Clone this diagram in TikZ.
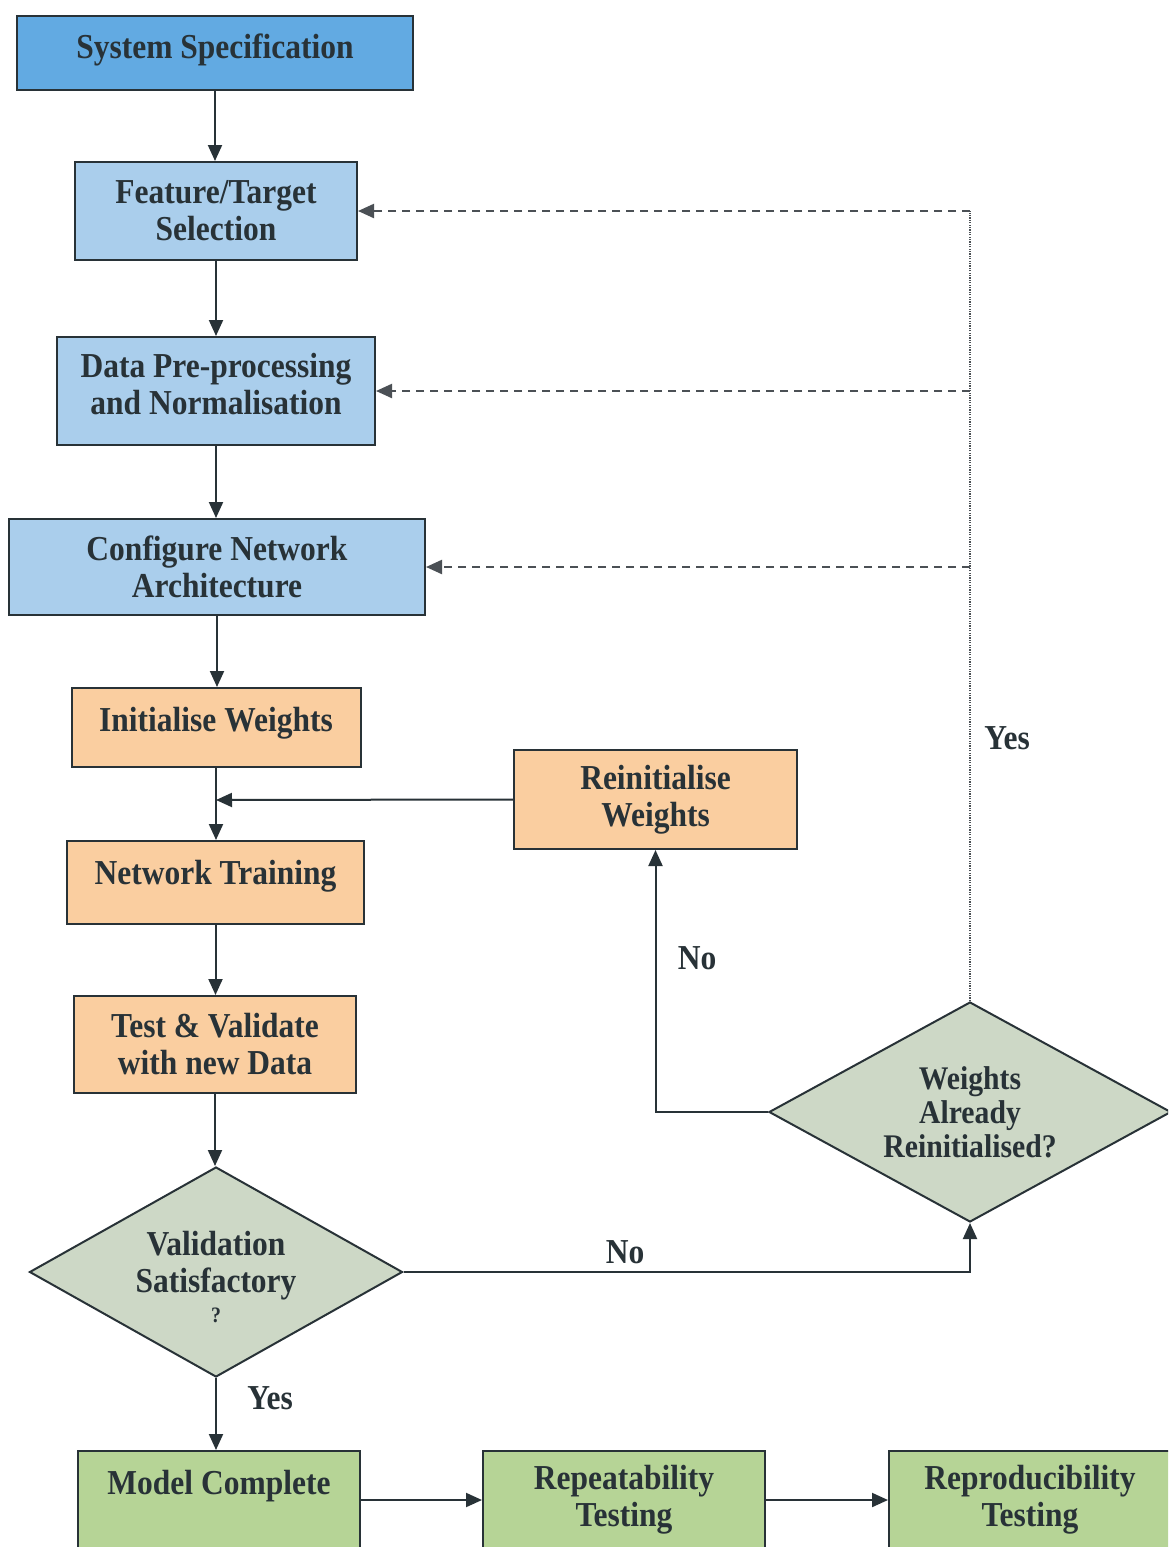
\documentclass[tikz,border=0pt]{standalone}
\usepackage{fontspec}
\setmainfont{Liberation Serif}[FakeStretch=0.9]
\usetikzlibrary{arrows.meta,shapes.geometric}
\definecolor{ink}{RGB}{40,50,55}
\definecolor{specblue}{RGB}{98,170,226}
\definecolor{lightblue}{RGB}{170,206,236}
\definecolor{peach}{RGB}{250,206,160}
\definecolor{sage}{RGB}{205,216,198}
\definecolor{leaf}{RGB}{182,212,150}
\definecolor{dashgray}{RGB}{75,80,85}

% lift a single line of text without changing the size the node sees
\newcommand{\lifttext}[2]{\raisebox{#1}[\height][\depth]{#2}}

\begin{document}
\begin{tikzpicture}[x=0.5pt,y=-0.5pt,
  every node/.style={text=ink},
  txt/.style={font=\bfseries\fontsize{17.5}{18.5}\selectfont},
  box/.style={txt, draw=ink, line width=1pt, align=center, inner sep=0pt},
  decision/.style={txt, shape=diamond, draw=ink, line width=1pt, fill=sage,
    align=center, inner sep=0pt},
  arr/.style={draw=ink, line width=1pt, -{Triangle[length=8pt,width=7pt]}},
  feedback/.style={draw=dashgray, line width=1.1pt, dash pattern=on 4pt off 3pt,
    -{Triangle[length=8pt,width=7pt]}},
  riser/.style={draw=dashgray, line width=1pt, dash pattern=on 0.6pt off 0.6pt},
  lbl/.style={txt}
]
\clip (0,0) rectangle (1168,1547);
\fill[white] (0,0) rectangle (1168,1547);

% main column
\node[box, fill=specblue, minimum width=198pt, minimum height=37pt]
  (sys) at (215,53) {\lifttext{1.5pt}{System Specification}};
\node[box, fill=lightblue, minimum width=141pt, minimum height=49pt]
  (feat) at (216,211) {Feature/Target\\Selection};
\node[box, fill=lightblue, minimum width=159pt, minimum height=54pt]
  (data) at (216,391) {Data Pre-processing\\and Normalisation\rule[-7pt]{0pt}{7pt}};
\node[box, fill=lightblue, minimum width=208pt, minimum height=48pt]
  (conf) at (217,567) {Configure Network\\Architecture};
\node[box, fill=peach, minimum width=144.5pt, minimum height=39.5pt]
  (init) at (216,727.5) {\lifttext{2pt}{Initialise Weights}};
\node[box, fill=peach, minimum width=148.5pt, minimum height=41.5pt]
  (train) at (215.5,882.5) {\lifttext{3pt}{Network Training}};
\node[box, fill=peach, minimum width=141pt, minimum height=48.5pt]
  (test) at (215,1044.5) {Test \& Validate\\with new Data};
\node[decision, minimum width=186.5pt, minimum height=105pt, aspect=1.78]
  (valid) at (216,1272)
  {\rule{0pt}{17pt}Validation\\Satisfactory\\[-3.5pt]{\fontsize{11}{13}\selectfont ?}};

% retry branch
\node[box, fill=peach, minimum width=141.5pt, minimum height=49.5pt]
  (reinit) at (655.5,799.5) {Reinitialise\\Weights};
\node[decision, minimum width=201pt, minimum height=110pt, aspect=1.83,
  font=\bfseries\fontsize{16.5}{17}\selectfont]
  (wdia) at (970,1112) {Weights\\Already\\Reinitialised?};

% final row
\node[box, fill=leaf, minimum width=141pt, minimum height=49pt]
  (model) at (219,1500) {\lifttext{7pt}{Model Complete}};
\node[box, fill=leaf, minimum width=141pt, minimum height=49pt]
  (rep) at (624,1500) {Repeatability\\Testing};
\node[box, fill=leaf, minimum width=141pt, minimum height=49pt]
  (repro) at (1030,1500) {Reproducibility\\Testing};

% main flow
\draw[arr] (sys) -- (sys |- feat.north);
\draw[arr] (feat) -- (feat |- data.north);
\draw[arr] (data) -- (data |- conf.north);
\draw[arr] (conf.south) -- (conf.south |- init.north);
\draw[arr] (init) -- (init |- train.north);
\draw[arr] (train.south) -- (train.south |- test.north);
\draw[arr] (test.south) -- (test.south |- valid.north);
\draw[arr] (valid.south) -- (valid.south |- model.north);
\draw[arr] (model.east) -- (rep.west);
\draw[arr] (rep.east) -- (repro.west);

% failed validation
\draw[arr] (valid.east) -| (wdia.south);
\draw[arr] (wdia.west) -| (reinit.south);
\coordinate (join) at (216,800);
\draw[arr] (reinit.west) -- (join);

% return to earlier stages
\coordinate (tapF) at (970,211);
\coordinate (tapD) at (970,391);
\coordinate (tapC) at (970,567);
\draw[riser] (wdia.north) -- (tapF);
\draw[feedback] (tapF) -- (feat.east);
\draw[feedback] (tapD) -- (data.east);
\draw[feedback] (tapC) -- (conf.east);

% branch labels
\node[lbl] (yesTop) at (1007,738) {Yes};
\node[lbl] (noUp) at (697,958) {No};
\node[lbl] (noRight) at (625,1252) {No};
\node[lbl] (yesDown) at (270,1398) {Yes};
\end{tikzpicture}
\end{document}
